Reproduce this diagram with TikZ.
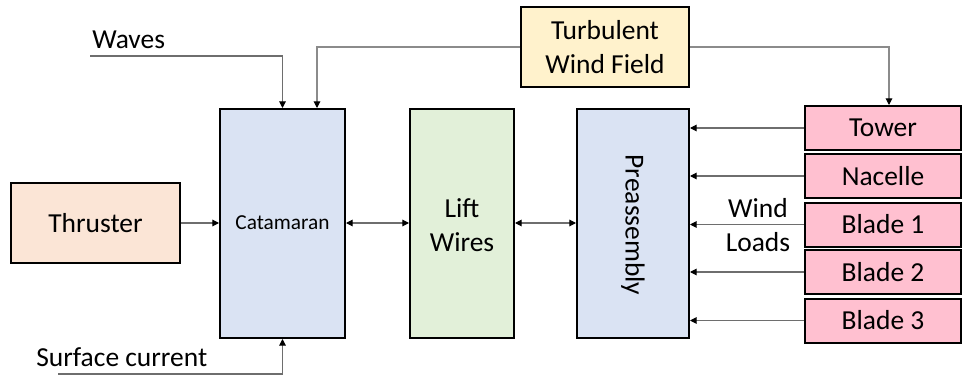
\documentclass[tikz,border=0pt]{standalone}
\usepackage{fontspec}
\setmainfont{Carlito}
\usetikzlibrary{arrows.meta, calc}

\definecolor{catblue}{RGB}{218,227,243}
\definecolor{liftgreen}{RGB}{226,240,217}
\definecolor{thrustred}{RGB}{251,229,214}
\definecolor{windyellow}{RGB}{255,242,204}
\definecolor{partpink}{RGB}{255,192,208}
\definecolor{linegray}{RGB}{110,110,110}

\begin{document}
\begin{tikzpicture}[
    x=0.75pt, y=-0.75pt,
    >={Triangle[length=5pt, width=5pt, color=black]},
    block/.style={draw=black, line width=1.5pt, inner sep=0pt, align=center,
        font=\fontsize{20.6}{25.5}\selectfont},
    part/.style={block, fill=partpink, minimum width=156*0.75pt, minimum height=44*0.75pt},
    link/.style={->, line width=0.8pt, linegray},
    label/.style={inner sep=0pt, font=\fontsize{20.6}{25.5}\selectfont, align=center}
]

    \useasboundingbox (0,0) rectangle (964,378);

    % main chain
    \node[block, fill=thrustred, minimum width=169*0.75pt, minimum height=80*0.75pt]
        (thruster) at (95.5,223) {Thruster};
    \node[block, fill=catblue, minimum width=125*0.75pt, minimum height=229*0.75pt,
        font=\fontsize{16}{19}\selectfont] (cat) at (282.5,223.5) {};
    \node[label, font=\fontsize{16}{19}\selectfont] (catlabel) at (282.5,223) {Catamaran};
    \node[block, fill=liftgreen, minimum width=104*0.75pt, minimum height=229*0.75pt]
        (lift) at (462,223.5) {};
    \node[label] (liftlabel) at (462,225) {Lift\\Wires};
    \node[block, fill=catblue, minimum width=112*0.75pt, minimum height=229*0.75pt]
        (pre) at (633,223.5) {};
    \node[label, rotate=-90] (prelabel) at (633,225) {Preassembly};
    \node[block, fill=windyellow, minimum width=168*0.75pt, minimum height=80*0.75pt]
        (wind) at (605,47) {Turbulent\\Wind Field};

    % turbine parts
    \foreach \name/\txt/\yy in {tower/Tower/128, nacelle/Nacelle/176,
        blade1/Blade 1/224.5, blade2/Blade 2/272, blade3/Blade 3/320.5} {
        \node[part] (\name) at (883,\yy) {\txt};
        \draw[link] (\name.west) -- (\name.west -| pre.east);
    }
    \node[label] (loads) at (758,225) {Wind\\Loads};

    % environment
    \node[label, anchor=west] (waves) at (92,40) {Waves};
    \coordinate (wavesin) at (90,56);
    \node[label, anchor=west] (current) at (36,357) {Surface current};
    \coordinate (currentin) at (58,374);
    \coordinate (windin) at ($(cat.north)+(34.5,0)$);

    \draw[link] (wavesin) -| (cat.north);
    \draw[link] (currentin) -| (cat.south);
    \draw[link, linegray!80] (wind.west) -| (windin);
    \draw[link, linegray!80] (wind.east) -| ($(tower.north)+(6,0)$);

    \draw[link] (thruster.east) -- (thruster.east -| cat.west);
    \draw[link, <->] (cat.east |- catlabel) -- (lift.west |- catlabel);
    \draw[link, <->] (lift.east |- catlabel) -- (pre.west |- catlabel);

\end{tikzpicture}
\end{document}
